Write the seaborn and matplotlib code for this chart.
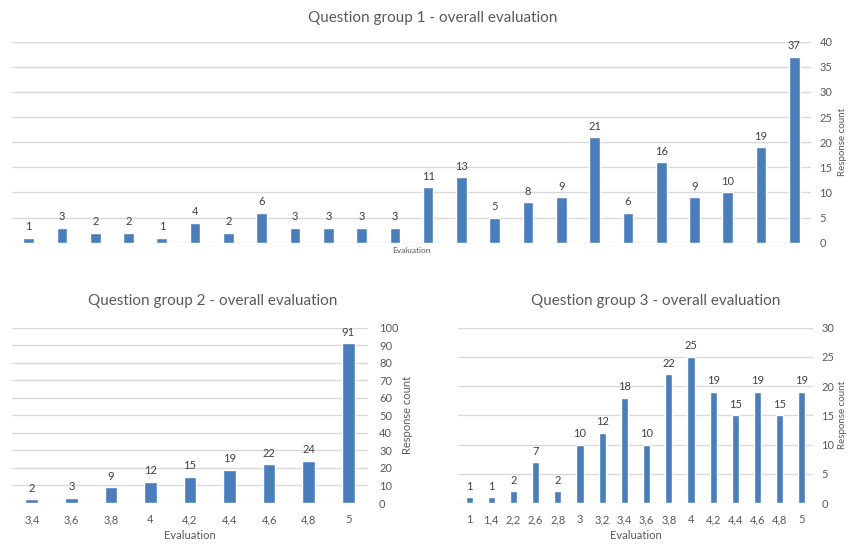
import matplotlib
matplotlib.use('Agg')
import matplotlib.pyplot as plt
import seaborn as sns
import pandas as pd

sns.set_theme(style='white')
plt.rcParams['font.family'] = ['Lato', 'DejaVu Sans']

# Question group 1 - 24 evaluation levels, no tick labels shown
g1_counts = [1, 3, 2, 2, 1, 4, 2, 6, 3, 3, 3, 3, 11, 13, 5, 8, 9, 21, 6, 16, 9, 10, 19, 37]
g1_levels = [str(i) for i in range(len(g1_counts))]

# Question group 2
g2_levels = ['3,4', '3,6', '3,8', '4', '4,2', '4,4', '4,6', '4,8', '5']
g2_counts = [2, 3, 9, 12, 15, 19, 22, 24, 91]

# Question group 3
g3_levels = ['1', '1,4', '2,2', '2,6', '2,8', '3', '3,2', '3,4', '3,6', '3,8', '4', '4,2', '4,4', '4,6', '4,8', '5']
g3_counts = [1, 1, 2, 7, 2, 10, 12, 18, 10, 22, 25, 19, 15, 19, 15, 19]

BAR = '#4a7ebb'
GRID = '#d9d9d9'
TXT = '#595959'

fig = plt.figure(figsize=(8.48, 5.44), dpi=100)
W, H = 848, 544

def px_axes(x0, y_top, x1, y_bot):
    return fig.add_axes([x0 / W, 1 - y_bot / H, (x1 - x0) / W, (y_bot - y_top) / H])

ax1 = px_axes(12, 41.7, 811, 242.7)
ax2 = px_axes(12, 327.7, 368, 503)
ax3 = px_axes(458, 327.7, 813, 503)


def draw(ax, levels, counts, title, ymax, step, title_x, title_y, ylab_x, xlab_y,
         show_xticks=True, xlab_size=8, ypad=8, ylab_size=8):
    df = pd.DataFrame({'Evaluation': levels, 'Response count': counts})
    sns.barplot(data=df, x='Evaluation', y='Response count', order=levels,
                color=BAR, saturation=1, width=0.32, ax=ax, zorder=3)
    ax.set_xlim(-0.5, len(levels) - 0.5)
    ax.set_ylim(0, ymax)
    ax.set_yticks(range(0, ymax + 1, step))
    ax.yaxis.tick_right()
    ax.yaxis.set_label_position('right')
    ax.grid(axis='y', color=GRID, linewidth=1, zorder=0)
    ax.set_axisbelow(True)
    for s in ax.spines.values():
        s.set_visible(False)
    ax.tick_params(axis='y', length=0, pad=ypad, labelsize=8, labelcolor=TXT)
    ax.tick_params(axis='x', length=0, pad=8, labelsize=8, labelcolor=TXT)
    if not show_xticks:
        ax.set_xticklabels([])
    ax.set_xlabel('Evaluation', fontsize=xlab_size, color=TXT)
    ax.xaxis.set_label_coords(0.5, xlab_y)
    ax.set_ylabel('Response count', fontsize=ylab_size, color=TXT)
    ax.yaxis.set_label_coords(ylab_x, 0.5)
    ax.text(title_x, title_y, title, transform=ax.transAxes, ha='center', va='center',
            fontsize=11, color=TXT)
    for c in ax.containers:
        ax.bar_label(c, fontsize=8, color='#404040', padding=4)


draw(ax1, g1_levels, g1_counts, 'Question group 1 - overall evaluation', 40, 5,
     title_x=0.527, title_y=1 + (41.7 - 18) / 201, ylab_x=(838 - 12) / 799,
     xlab_y=-0.021, show_xticks=False, xlab_size=6, ypad=6, ylab_size=7)
draw(ax2, g2_levels, g2_counts, 'Question group 2 - overall evaluation', 100, 10,
     title_x=0.565, title_y=1 + (327.7 - 301) / 175.3, ylab_x=(402 - 12) / 356,
     xlab_y=-0.154)
draw(ax3, g3_levels, g3_counts, 'Question group 3 - overall evaluation', 30, 5,
     title_x=0.558, title_y=1 + (327.7 - 301) / 175.3, ylab_x=(838 - 458) / 355,
     xlab_y=-0.154, ypad=6, ylab_size=7)

fig.savefig('out.png', dpi=100)
